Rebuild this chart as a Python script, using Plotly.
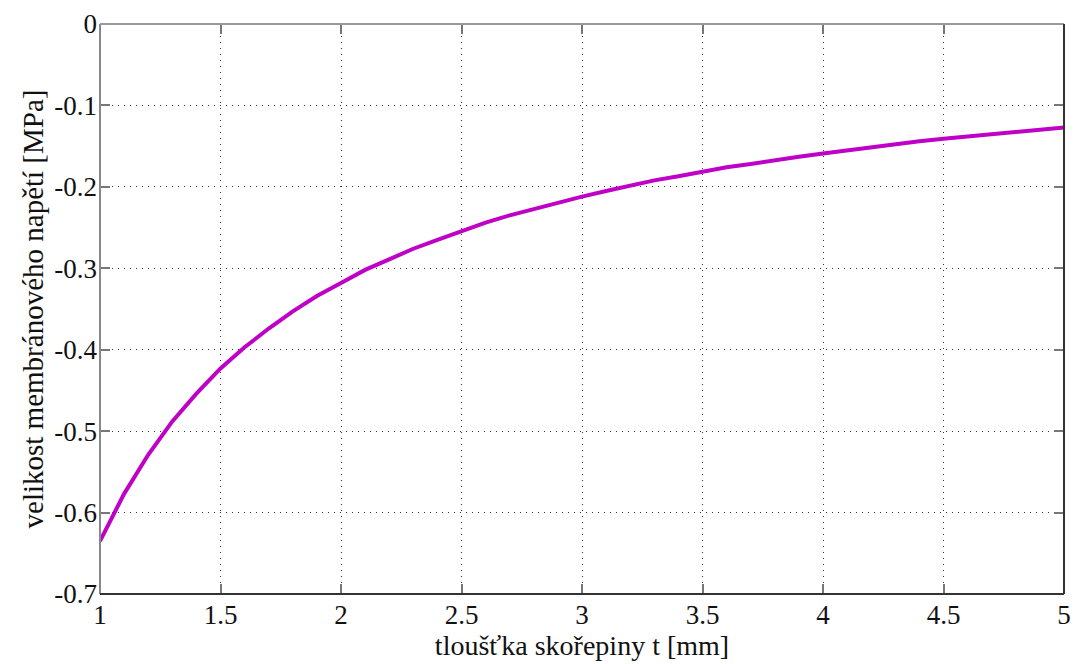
import plotly.graph_objects as go

thickness_mm = [1.0, 1.1, 1.2, 1.3, 1.4, 1.5, 1.6, 1.7, 1.8, 1.9, 2.0,
                2.1, 2.2, 2.3, 2.4, 2.5, 2.6, 2.7, 2.8, 2.9, 3.0,
                3.1, 3.2, 3.3, 3.4, 3.5, 3.6, 3.7, 3.8, 3.9, 4.0,
                4.1, 4.2, 4.3, 4.4, 4.5, 4.6, 4.7, 4.8, 4.9, 5.0]
stress_mpa = [-0.635, -0.577, -0.529, -0.488, -0.454, -0.423, -0.397, -0.374, -0.353, -0.334, -0.318,
              -0.302, -0.289, -0.276, -0.265, -0.254, -0.244, -0.235, -0.227, -0.219, -0.212,
              -0.205, -0.198, -0.192, -0.187, -0.181, -0.176, -0.172, -0.167, -0.163, -0.159,
              -0.155, -0.151, -0.148, -0.144, -0.141, -0.138, -0.135, -0.132, -0.130, -0.127]

x_ticks = [1, 1.5, 2, 2.5, 3, 3.5, 4, 4.5, 5]
x_tick_labels = ["1", "1.5", "2", "2.5", "3", "3.5", "4", "4.5", "5"]
y_ticks = [0, -0.1, -0.2, -0.3, -0.4, -0.5, -0.6, -0.7]
y_tick_labels = ["0", "-0.1", "-0.2", "-0.3", "-0.4", "-0.5", "-0.6", "-0.7"]

FONT = "Liberation Serif"

fig = go.Figure()
fig.add_trace(go.Scatter(x=thickness_mm, y=stress_mpa, mode="lines",
                         line=dict(color="#bf00c6", width=4),
                         showlegend=False, hoverinfo="skip"))

axis_common = dict(showgrid=True, gridcolor="#333", griddash="1px,5px", gridwidth=1,
                   zeroline=False, ticks="inside", ticklen=10, tickcolor="#777",
                   tickwidth=2, mirror="ticks", showline=False, automargin=False,
                   tickfont=dict(family=FONT, size=27, color="#111"))

fig.update_xaxes(range=[1, 5], tickvals=x_ticks, ticktext=x_tick_labels, ticklabelstandoff=2,
                 title=dict(text="tloušťka skořepiny t [mm]", font=dict(family=FONT, size=28, color="#111"), standoff=0),
                 **axis_common)
fig.update_yaxes(range=[-0.7, 0], tickvals=y_ticks, ticktext=y_tick_labels, ticklabelstandoff=2,
                 title=dict(text="velikost membránového napětí [MPa]", font=dict(family=FONT, size=29, color="#111"), standoff=2),
                 **axis_common)

# frame: left/top grey, bottom/right dark
fig.add_shape(type="line", xref="paper", yref="paper", x0=0, x1=0, y0=0, y1=1, line=dict(color="#888", width=2))
fig.add_shape(type="line", xref="paper", yref="paper", x0=0, x1=1, y0=1, y1=1, line=dict(color="#999", width=2))
fig.add_shape(type="line", xref="paper", yref="paper", x0=0, x1=1, y0=0, y1=0, line=dict(color="#333", width=2))
fig.add_shape(type="line", xref="paper", yref="paper", x0=1, x1=1, y0=0, y1=1, line=dict(color="#333", width=2))

fig.update_layout(width=1075, height=664, margin=dict(l=100, r=11, t=24, b=70),
                  paper_bgcolor="white", plot_bgcolor="white",
                  font=dict(family=FONT))

fig.write_html("out.html")
